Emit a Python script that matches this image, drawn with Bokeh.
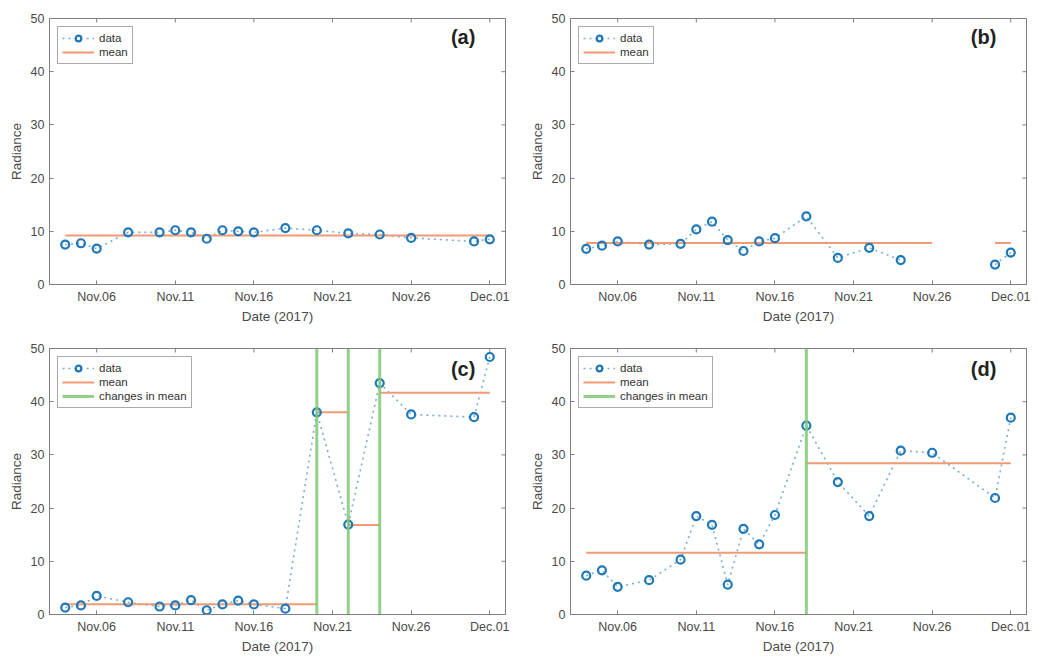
from datetime import datetime
import math
import pandas as pd
from bokeh.plotting import figure
from bokeh.models import (Range1d, FixedTicker, DatetimeTickFormatter,
                          Legend, LegendItem, Label, ColumnDataSource)
from bokeh.layouts import column, row
from bokeh.embed import file_html
from bokeh.resources import INLINE

# ---------------- data ----------------
dates = ["2017-11-04", "2017-11-05", "2017-11-06", "2017-11-08", "2017-11-10",
         "2017-11-11", "2017-11-12", "2017-11-13", "2017-11-14", "2017-11-15",
         "2017-11-16", "2017-11-18", "2017-11-20", "2017-11-22", "2017-11-24",
         "2017-11-26", "2017-11-30", "2017-12-01"]

values_a = [7.5, 7.75, 6.75, 9.8, 9.8, 10.2, 9.8, 8.6, 10.2, 10.0,
            9.8, 10.6, 10.2, 9.6, 9.4, 8.75, 8.1, 8.5]
values_b = [6.7, 7.3, 8.1, 7.5, 7.65, 10.35, 11.8, 8.35, 6.3, 8.1,
            8.7, 12.8, 5.0, 6.9, 4.6, float("nan"), 3.75, 6.0]
values_c = [1.3, 1.7, 3.5, 2.3, 1.5, 1.7, 2.7, 0.8, 1.9, 2.6,
            1.9, 1.1, 38.0, 16.9, 43.5, 37.6, 37.1, 48.4]
values_d = [7.3, 8.3, 5.2, 6.45, 10.3, 18.5, 16.85, 5.6, 16.1, 13.2,
            18.7, 35.5, 24.9, 18.5, 30.8, 30.4, 21.9, 37.0]

mean_a_start = ["2017-11-04"]
mean_a_end = ["2017-12-01"]
mean_a_val = [9.2]

mean_b_start = ["2017-11-04", "2017-11-30"]
mean_b_end = ["2017-11-26", "2017-12-01"]
mean_b_val = [7.8, 7.8]

mean_c_start = ["2017-11-04", "2017-11-20", "2017-11-22", "2017-11-24"]
mean_c_end = ["2017-11-20", "2017-11-22", "2017-11-24", "2017-12-01"]
mean_c_val = [1.95, 38.0, 16.8, 41.7]
changes_c = ["2017-11-20", "2017-11-22", "2017-11-24"]

mean_d_start = ["2017-11-04", "2017-11-18"]
mean_d_end = ["2017-11-18", "2017-12-01"]
mean_d_val = [11.6, 28.45]
changes_d = ["2017-11-18"]

tick_dates = ["2017-11-06", "2017-11-11", "2017-11-16", "2017-11-21",
              "2017-11-26", "2017-12-01"]
y_ticks = [0, 10, 20, 30, 40, 50]
x_start, x_end = "2017-11-03", "2017-12-02"
y_lo, y_hi = 0, 50

# ---------------- style ----------------
BLUE = "#1f78b8"
ORANGE = "#f29a76"
GREEN = "#80c874"
AXIS = "#7f7f7f"
TEXT = "#4a4a4a"
FONT = "Liberation Sans"


def to_ms(d):
    return pd.Timestamp(d).value / 1e6


def make_panel(values, m0, m1, mv, changes, tag, min_top, min_bottom,
               min_left, min_right, plabel_y):
    p = figure(x_axis_type="datetime", output_backend="svg", toolbar_location=None,
               frame_width=456, frame_height=266,
               min_border_left=min_left, min_border_right=min_right,
               min_border_top=min_top, min_border_bottom=min_bottom,
               x_range=Range1d(pd.Timestamp(x_start), pd.Timestamp(x_end)),
               y_range=Range1d(y_lo, y_hi))
    p.grid.visible = False
    p.outline_line_color = AXIS
    p.outline_line_width = 1
    p.background_fill_color = "white"
    p.border_fill_color = "white"

    xt = FixedTicker(ticks=[to_ms(d) for d in tick_dates])
    fmt = DatetimeTickFormatter(days="%b.%d", months="%b.%d", hours="%b.%d",
                                years="%b.%d")
    yt = FixedTicker(ticks=y_ticks)

    p.xaxis.ticker = xt
    p.xaxis.formatter = fmt
    p.yaxis.ticker = yt
    p.xaxis.axis_label = "Date (2017)"
    p.yaxis.axis_label = "Radiance"

    for ax in [p.xaxis[0], p.yaxis[0]]:
        ax.axis_line_color = AXIS
        ax.major_tick_line_color = AXIS
        ax.major_tick_in = 4
        ax.major_tick_out = 0
        ax.minor_tick_line_color = None
        ax.major_label_text_font = FONT
        ax.major_label_text_font_size = "12.5px"
        ax.major_label_text_color = TEXT
        ax.axis_label_text_font = FONT
        ax.axis_label_text_font_size = "13.5px"
        ax.axis_label_text_font_style = "normal"
        ax.axis_label_text_color = TEXT
    p.xaxis.major_label_standoff = 5
    p.xaxis.axis_label_standoff = 2
    p.yaxis.major_label_standoff = 5
    p.yaxis.axis_label_standoff = 4

    # inward ticks on the top and right edges of the box
    p.ray(x=pd.to_datetime(tick_dates), y=[y_hi] * len(tick_dates), length=4,
          length_units="screen", angle=-math.pi / 2, line_color=AXIS, line_width=1)
    p.ray(x=[pd.Timestamp(x_end)] * len(y_ticks), y=y_ticks, length=4,
          length_units="screen", angle=math.pi, line_color=AXIS, line_width=1)

    src = ColumnDataSource(dict(x=pd.to_datetime(dates), y=values))
    msrc = ColumnDataSource(dict(x0=pd.to_datetime(m0), x1=pd.to_datetime(m1), y=mv))

    r_line = p.line("x", "y", source=src, line_color=BLUE, line_width=1.6,
                    line_dash="2 4", line_alpha=0.6)
    r_mean = p.segment(x0="x0", y0="y", x1="x1", y1="y", source=msrc,
                       line_color=ORANGE, line_width=2)
    r_pts = p.scatter("x", "y", source=src, marker="circle", size=8,
                      line_color=BLUE, line_width=2.2, fill_color=None)
    items = [LegendItem(label="data", renderers=[r_line, r_pts]),
             LegendItem(label="mean", renderers=[r_mean])]
    if changes:
        csrc = ColumnDataSource(dict(x=pd.to_datetime(changes),
                                     y0=[y_lo] * len(changes),
                                     y1=[y_hi] * len(changes)))
        r_ch = p.segment(x0="x", y0="y0", x1="x", y1="y1", source=csrc,
                         line_color=GREEN, line_width=3, line_alpha=0.85)
        items.append(LegendItem(label="changes in mean", renderers=[r_ch]))

    legend = Legend(items=items, location="top_left", margin=8, padding=4,
                    spacing=0, glyph_width=32, glyph_height=14, label_height=14,
                    label_standoff=5, label_text_font=FONT,
                    label_text_font_size="11.5px", label_text_color="#333333",
                    border_line_color="#555555", border_line_width=1,
                    background_fill_color="white", background_fill_alpha=1)
    p.add_layout(legend)

    p.add_layout(Label(x=pd.Timestamp("2017-11-30 02:00").value / 1e6, y=plabel_y,
                       text=tag, text_align="right", text_baseline="middle",
                       text_font=FONT, text_font_size="20px",
                       text_font_style="bold", text_color="#222222"))
    return p


pa = make_panel(values_a, mean_a_start, mean_a_end, mean_a_val, None, "(a)",
                18, 54, 49, 20, 46.6)
pb = make_panel(values_b, mean_b_start, mean_b_end, mean_b_val, None, "(b)",
                18, 54, 45, 20, 46.6)
pc = make_panel(values_c, mean_c_start, mean_c_end, mean_c_val, changes_c, "(c)",
                10, 46, 49, 20, 46.2)
pd_ = make_panel(values_d, mean_d_start, mean_d_end, mean_d_val, changes_d, "(d)",
                 10, 46, 45, 20, 46.2)

layout = column(row(pa, pb), row(pc, pd_))
open("out.html", "w").write(file_html(layout, INLINE))
